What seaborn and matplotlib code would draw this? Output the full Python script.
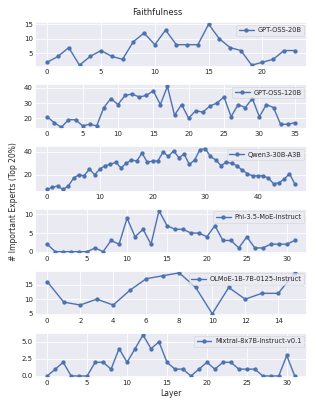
import matplotlib
matplotlib.use("Agg")
import matplotlib.pyplot as plt
import seaborn as sns
import pandas as pd

models = ["GPT-OSS-20B", "GPT-OSS-120B", "Qwen3-30B-A3B", "Phi-3.5-MoE-instruct",
          "OLMoE-1B-7B-0125-Instruct", "Mixtral-8x7B-Instruct-v0.1"]

gpt_oss_20b = [2, 4, 7, 1, 4, 6, 4, 3, 9, 12, 8, 13, 8, 8, 8, 15, 10, 7, 6, 1, 2, 3, 6, 6]
gpt_oss_120b = [21, 17, 14, 19, 19, 15, 16, 15, 27, 33, 29, 35, 36, 34, 35, 38, 29, 41,
                22, 29, 20, 25, 24, 28, 30, 34, 21, 29, 27, 33, 21, 29, 27, 16, 16, 17]
qwen3_30b = [7, 9, 10, 7, 10, 17, 20, 19, 25, 20, 25, 28, 29, 31, 26, 30, 33, 32, 39, 31,
             32, 32, 40, 36, 41, 35, 38, 29, 33, 42, 43, 36, 33, 28, 31, 30, 28, 24, 21, 19,
             19, 19, 17, 12, 13, 16, 21, 12]
phi35 = [2, 0, 0, 0, 0, 0, 1, 0, 3, 2, 9, 4, 6, 2, 11, 7, 6, 6, 5, 5, 4, 7, 3, 3, 1, 4,
         1, 1, 2, 2, 2, 3]
olmoe = [16, 9, 8, 10, 8, 13, 17, 18, 19, 14, 5, 14, 10, 12, 12, 19]
mixtral = [0, 1, 2, 0, 0, 0, 2, 2, 1, 4, 2, 4, 6, 4, 5, 2, 1, 1, 0, 1, 2, 1, 2, 2, 1, 1,
           1, 0, 0, 0, 3, 0]

series = [gpt_oss_20b, gpt_oss_120b, qwen3_30b, phi35, olmoe, mixtral]

sns.set_theme(style="darkgrid")
plt.rcParams["font.family"] = ["DejaVu Sans"]

fig, axes = plt.subplots(6, 1, figsize=(3.14, 4.03), dpi=100)
fig.subplots_adjust(left=0.111, right=0.978, top=0.945, bottom=0.062, hspace=0.38)

color = "#4c72b0"
for ax, name, vals in zip(axes, models, series):
    df = pd.DataFrame({"Layer": list(range(len(vals))), "count": vals})
    sns.lineplot(data=df, x="Layer", y="count", ax=ax, marker="o", color=color,
                 markersize=3.1, linewidth=1.0, markeredgewidth=0, label=name)
    ax.set_xlabel("")
    ax.set_ylabel("")
    ax.tick_params(labelsize=5, pad=1.5, length=0)
    ax.grid(linewidth=0.6)
    leg = ax.legend(loc="upper right", fontsize=4.8, frameon=True, handlelength=2.2,
                    borderpad=0.4, handletextpad=0.6, borderaxespad=0.4)
    leg.get_frame().set_linewidth(0.4)

axes[-1].set_xlabel("Layer", fontsize=5.5, labelpad=2)
fig.suptitle("Faithfulness", fontsize=6, y=0.979)
fig.supylabel("# Important Experts (Top 20%)", fontsize=5.5, x=0.03)

fig.savefig("out.png", dpi=100)
